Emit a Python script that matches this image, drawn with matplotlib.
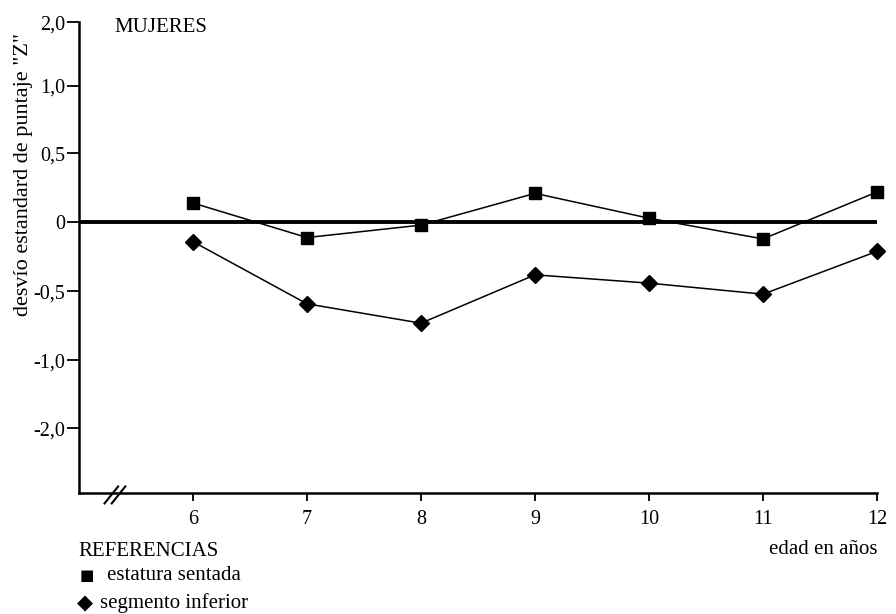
import matplotlib
matplotlib.use('Agg')
import matplotlib.pyplot as plt
from matplotlib.lines import Line2D

plt.rcParams['font.family'] = ['Liberation Serif', 'DejaVu Serif']

edades = [6, 7, 8, 9, 10, 11, 12]
estatura_sentada = [0.14, -0.11, -0.02, 0.21, 0.03, -0.12, 0.22]
segmento_inferior = [-0.14, -0.59, -0.73, -0.38, -0.44, -0.52, -0.21]

ytick_pos = [1.45, 0.99, 0.5, 0, -0.5, -1.0, -1.49]
ytick_labels = ['2,0', '1,0', '0,5', '0', '-0,5', '-1,0', '-2,0']

fig = plt.figure(figsize=(8.96, 6.14), dpi=100)
ax = fig.add_axes([0.0882, 0.197, 0.8906, 0.767])

ax.axhline(0, color='black', lw=2.8, zorder=1)
ax.plot(edades, estatura_sentada, color='black', lw=1.1, marker='s',
        markersize=8.5, zorder=3, clip_on=False)
ax.plot(edades, segmento_inferior, color='black', lw=1.1, marker='D',
        markersize=8.5, zorder=3, clip_on=False)

ax.set_xlim(5, 12)
ax.set_ylim(-1.96, 1.45)
ax.set_xticks(edades)
ax.set_xticklabels([str(e) for e in edades], fontsize=14.5)
ax.set_yticks(ytick_pos)
ax.set_yticklabels(ytick_labels, fontsize=14.5)
ax.tick_params(axis='y', direction='out', length=9, width=1.3, pad=1)
ax.tick_params(axis='x', direction='out', length=6, width=1.3, pad=6)

for s in ['top', 'right']:
    ax.spines[s].set_visible(False)
for s in ['left', 'bottom']:
    ax.spines[s].set_linewidth(1.8)

# break marks on the x axis
for dx in [0.0, 0.009]:
    ax.add_line(Line2D([0.032 + dx, 0.049 + dx], [-0.022, 0.014],
                       transform=ax.transAxes, color='black', lw=1.5,
                       clip_on=False))

ax.set_ylabel('desvío estandard de puntaje "Z"', fontsize=16)
ax.yaxis.set_label_coords(-0.058, 0.677)

fig.text(0.128, 0.955, 'MUJERES', fontsize=15, va='center', ha='left')
fig.text(0.979, 0.105, 'edad en años', fontsize=15, va='center', ha='right')
fig.text(0.087, 0.102, 'REFERENCIAS', fontsize=15, va='center', ha='left')
fig.text(0.089, 0.062, '■', fontsize=11, va='center', ha='left',
         family=['DejaVu Sans'])
fig.text(0.119, 0.062, 'estatura sentada', fontsize=15, va='center', ha='left')
fig.text(0.086, 0.018, '◆', fontsize=15, va='center', ha='left',
         family=['DejaVu Sans'])
fig.text(0.112, 0.018, 'segmento inferior', fontsize=15, va='center', ha='left')

fig.savefig('out.png', dpi=100)
